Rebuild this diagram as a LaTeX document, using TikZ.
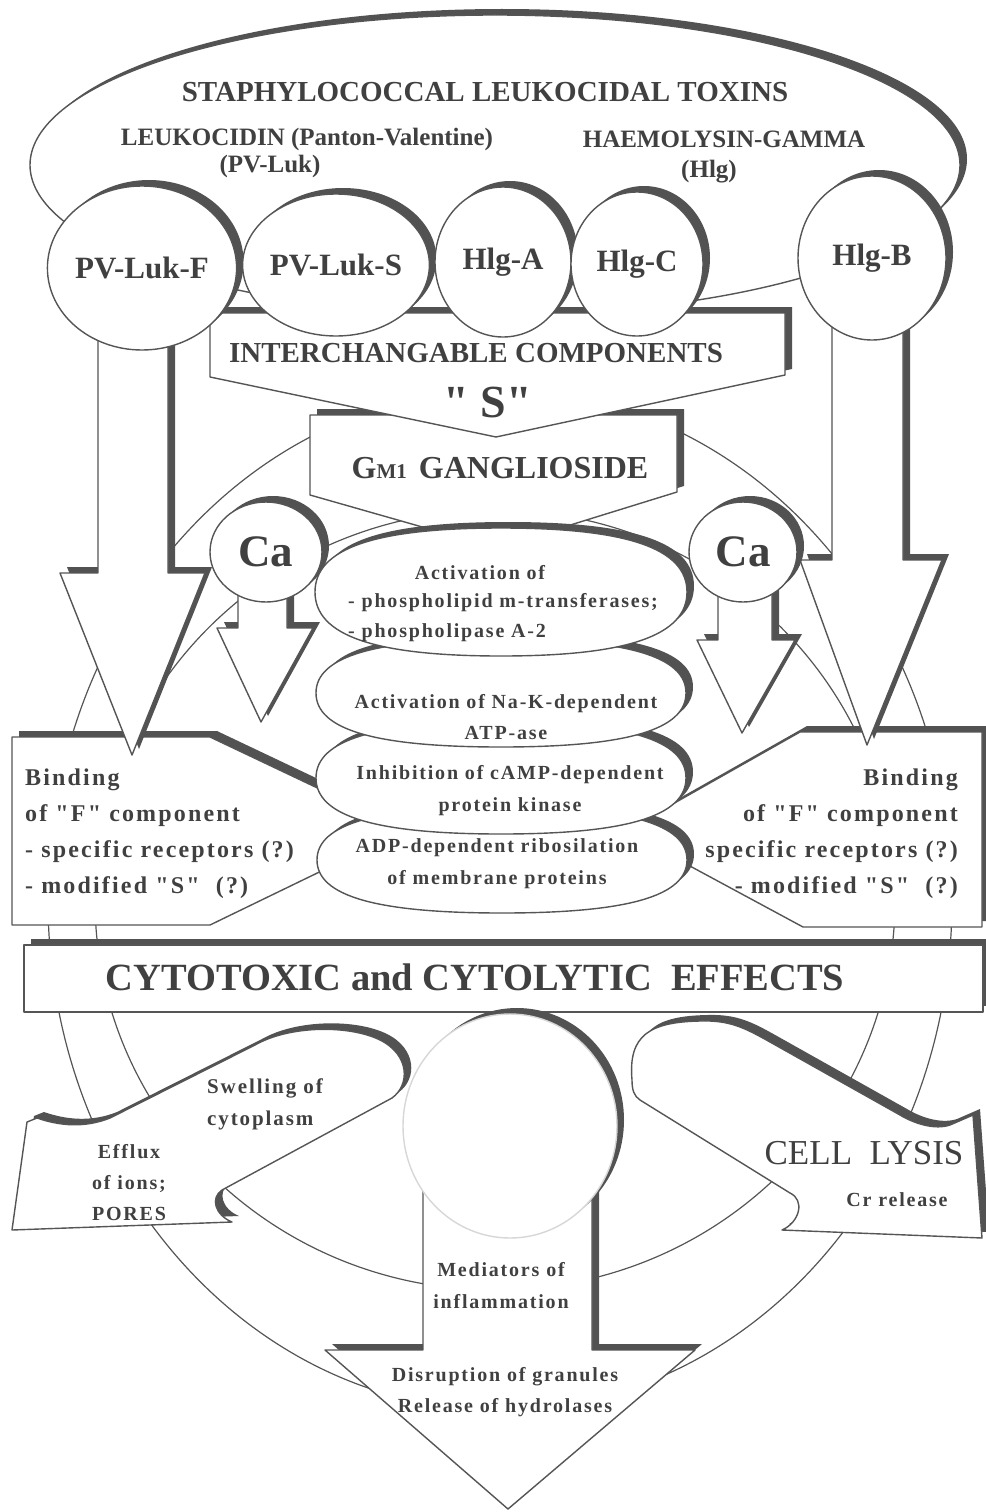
\documentclass[tikz,border=0pt]{standalone}
\usepackage{fontspec}
\setmainfont{Liberation Serif}[Ligatures=TeXOff]
\newfontfamily\spacedfont[LetterSpace=9,Ligatures=TeXOff]{Liberation Serif}
\usetikzlibrary{shapes.geometric,shadows}
\definecolor{inkgray}{RGB}{64,64,64}
\definecolor{linegray}{RGB}{85,85,85}
\definecolor{shadowgray}{RGB}{82,82,82}
\definecolor{faintgray}{RGB}{215,215,215}
\newcommand\fsz[2]{\fontsize{#1}{#2}\selectfont}
% full rounded outline: centre x, centre y, x radius, y radius
\newcommand\blob[4]{(#1-#3,#2) .. controls (#1-#3,#2-0.68*#4) and (#1-0.68*#3,#2-#4) .. (#1,#2-#4)
	.. controls (#1+0.68*#3,#2-#4) and (#1+#3,#2-0.68*#4) .. (#1+#3,#2)
	.. controls (#1+#3,#2+0.68*#4) and (#1+0.68*#3,#2+#4) .. (#1,#2+#4)
	.. controls (#1-0.68*#3,#2+#4) and (#1-#3,#2+0.68*#4) .. (#1-#3,#2) -- cycle}

\begin{document}
\begin{tikzpicture}[x=1pt,y=-1pt,
	membrane/.style={draw=linegray,line width=1.2pt},
	boxed/.style={draw=linegray,line width=1.4pt,fill=white,line join=round,
		drop shadow={shadow xshift=7pt,shadow yshift=6pt,fill=shadowgray,opacity=1}},
	toxin/.style={boxed,ellipse,inner sep=0pt,text=inkgray,font=\bfseries\fsz{31}{31}},
	lbl/.style={inner sep=0pt,text=inkgray},
	]
	\useasboundingbox (0,0) rectangle (985,1512);
	
	% cell membrane
	\draw[membrane] (500,900) ellipse [x radius=452,y radius=510];
	\draw[membrane] (495,900) ellipse [x radius=400,y radius=390];
	
	% binding of F
	\path[boxed] (12,737) -- (210,737) -- (406,830) -- (210,925) -- (12,925) -- cycle;
	\path[boxed] (982,732) -- (800,732) -- (625,831) -- (803,927) -- (982,927) -- cycle;
	\node[lbl,font=\spacedfont\bfseries\fsz{24}{36},align=left,anchor=west] (bindleft) at (25,834)
		{Binding\\of "F" component\\- specific receptors (?)\\- modified "S"~~(?)};
	\node[lbl,font=\spacedfont\bfseries\fsz{24}{36},align=right,anchor=east] (bindright) at (958,834)
		{Binding\\of "F" component\\specific receptors (?)\\- modified "S"~~(?)};
	
	% effects
	\path[boxed] (24,945) rectangle (983,1012);
	\node[lbl,font=\bfseries\fsz{38.5}{38.5}] (effects) at (475,977) {CYTOTOXIC and CYTOLYTIC~~EFFECTS};
	
	% efflux
	\path[boxed] (12,1230) -- (27,1122) -- (37,1118) .. controls (60,1126) and (85,1128) .. (110,1118)
		-- (255,1045) .. controls (290,1025) and (350,1025) .. (380,1040)
		.. controls (410,1055) and (410,1085) .. (392,1098) -- (222,1190)
		.. controls (210,1198) and (215,1215) .. (232,1222) -- cycle;
	\node[lbl,font=\spacedfont\bfseries\fsz{21}{32},align=left,anchor=west] (swelling) at (207,1104) {Swelling of\\cytoplasm};
	\node[lbl,font=\spacedfont\bfseries\fsz{20}{31},align=center] (efflux) at (129,1183) {Efflux\\of ions;\\PORES};
	
	% lysis
	\path[boxed] (632,1080) .. controls (628,1035) and (650,1022) .. (700,1021)
		.. controls (730,1020) and (745,1028) .. (770,1042) -- (900,1115)
		.. controls (915,1124) and (935,1130) .. (950,1125) -- (973,1115) -- (982,1238) -- (782,1230)
		.. controls (800,1222) and (805,1200) .. (790,1193) -- (640,1100)
		.. controls (634,1096) and (632,1090) .. (632,1080) -- cycle;
	\node[lbl,font=\fsz{35}{35}] (lysis) at (864,1153) {CELL~~LYSIS};
	\node[lbl,font=\spacedfont\bfseries\fsz{20}{20}] (chromium) at (897,1200) {Cr release};
	
	% degranulation
	\path[boxed] (423,1170) -- (423,1350) -- (325,1350) -- (508,1509) -- (695,1350) -- (592,1350) -- (592,1170) -- cycle;
	\node[boxed,ellipse,draw=faintgray,minimum width=214pt,minimum height=224pt] (granule) at (510,1126) {};
	\node[lbl,font=\spacedfont\bfseries\fsz{20}{32},align=center] (mediators) at (501,1286) {Mediators of\\inflammation};
	\node[lbl,font=\spacedfont\bfseries\fsz{20}{31},align=center] (hydrolases) at (505,1392) {Disruption of granules\\Release of hydrolases};
	
	% toxins
	\path[boxed] (495,165) ellipse [x radius=465,y radius=150];
	\node[lbl,font=\bfseries\fsz{29}{29}] (title) at (485,92) {STAPHYLOCOCCAL LEUKOCIDAL TOXINS};
	\node[lbl,font=\bfseries\fsz{25}{25}] (pvluk) at (307,139) {LEUKOCIDIN (Panton-Valentine)};
	\node[lbl,font=\bfseries\fsz{25}{25}] (pvlukshort) at (270,166) {(PV-Luk)};
	\node[lbl,font=\bfseries\fsz{25}{25}] (hlg) at (724,139) {HAEMOLYSIN-GAMMA};
	\node[lbl,font=\bfseries\fsz{25}{25}] (hlgshort) at (709,172) {(Hlg)};
	
	% receptor
	\path[boxed] (310,415) -- (677,415) -- (677,492) -- (496,548) -- (310,495) -- cycle;
	\path[boxed] (210,313) -- (785,313) -- (785,375) -- (496,437) -- (210,377) -- cycle;
	\node[lbl,font=\bfseries\fsz{29}{29}] (interch) at (476,353) {INTERCHANGABLE COMPONENTS};
	\node[lbl,font=\bfseries\fsz{46}{46}] (scomp) at (488,402) {" S"};
	\node[lbl,font=\bfseries\fsz{32}{32}] (ganglioside) at (500,468) {G{\fsz{21}{21}M1}\hspace{12pt}GANGLIOSIDE};
	
	% F component arrows
	\path[boxed] (98,320) -- (98,573) -- (60,573) -- (132,755) -- (205,573) -- (168,573) -- (168,320) -- cycle;
	\path[boxed] (832,315) -- (832,560) -- (800,560) -- (867,745) -- (942,560) -- (903,560) -- (903,315) -- cycle;
	
	\node[toxin,minimum width=152pt,minimum height=164pt] (lukf) at (142,268) {PV-Luk-F};
	\node[toxin,minimum width=136pt,minimum height=142pt] (luks) at (336,265) {PV-Luk-S};
	\node[toxin,minimum width=136pt,minimum height=150pt] (hlga) at (503,262) {Hlg-A};
	\node[toxin,minimum width=132pt,minimum height=144pt] (hlgc) at (637,264) {Hlg-C};
	\node[toxin,minimum width=148pt,minimum height=164pt] (hlgb) at (872,258) {Hlg-B};
	
	% calcium
	\path[boxed] (238,580) -- (238,628) -- (217,628) -- (261,722) -- (313,628) -- (287,628) -- (287,580) -- cycle;
	\path[boxed] (718,580) -- (718,640) -- (697,640) -- (742,733) -- (795,640) -- (772,640) -- (772,580) -- cycle;
	\node[toxin,font=\bfseries\fsz{45}{45},minimum width=112pt,minimum height=100pt] (caleft) at (266,552) {Ca};
	\node[toxin,font=\bfseries\fsz{45}{45},minimum width=108pt,minimum height=100pt] (caright) at (743,552) {Ca};
	
	% enzyme stack
	\path[boxed] \blob{502}{860}{185}{53};
	\path[boxed] \blob{501}{778}{185}{56};
	\path[boxed] \blob{501}{693}{185}{54};
	\path[boxed] \blob{501}{592}{186}{64};
	
	\node[lbl,font=\spacedfont\bfseries\fsz{20}{20}] (lipase1) at (480,573) {Activation of};
	\node[lbl,font=\spacedfont\bfseries\fsz{20}{30},align=left,anchor=west] (lipase2) at (348,618)
		{- phospholipid m-transferases;\\- phospholipase A-2};
	\node[lbl,font=\spacedfont\bfseries\fsz{20}{31},align=center] (atpase1) at (506,717) {Activation of Na-K-dependent\\ATP-ase};
	\node[lbl,font=\spacedfont\bfseries\fsz{20}{32},align=center] (kinase1) at (510,791) {Inhibition of cAMP-dependent\\protein kinase};
	\node[lbl,font=\spacedfont\bfseries\fsz{20}{32},align=center] (ribos1) at (497,864) {ADP-dependent ribosilation\\of membrane proteins};
	
\end{tikzpicture}
\end{document}
